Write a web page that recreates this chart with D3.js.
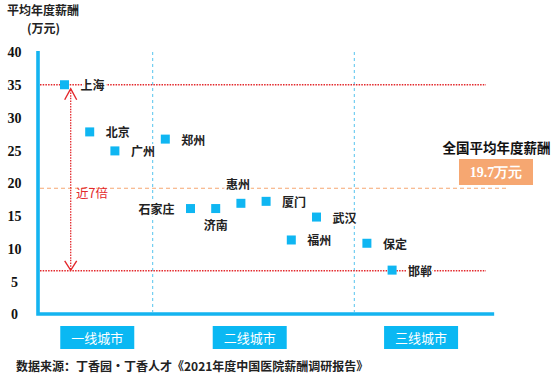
<!DOCTYPE html>
<html><head><meta charset="utf-8">
<script src="https://cdn.jsdelivr.net/npm/d3@7/dist/d3.min.js"></script>
<style>
body{margin:0;background:#fff;}
svg{display:block;}
</style></head>
<body><svg id="c" width="558" height="376"></svg>
<script>
// ---- data ----
const cities   = ["上海","北京","广州","郑州","石家庄","济南","惠州","厦门","福州","武汉","保定","邯郸"];
const salaries = [35, 27.8, 24.9, 26.7, 16.1, 16.1, 16.9, 17.2, 11.3, 14.8, 10.8, 6.7];
const slots    = [0, 1, 2, 4, 5, 6, 7, 8, 9, 10, 12, 13];
const labelSide= ["right","right","right","right","left","below","above","right","right","right","right","right"];
const tiers    = ["一线城市","二线城市","三线城市"];
const tierCenters = [1.3, 7.35, 14.15];
const tierDividers = [3.5, 11.5];
const yTicks   = [0,5,10,15,20,25,30,35,40];
const maxRef = 35, minRef = 6.6;
const avgLineValue = 19.2;
const avgLabel = "19.7万元";
const gapLabel = "近7倍";

const svg = d3.select("#c");
const cyan = "#14b4f0", red = "#e3282c", orange = "#f6a771";
const cjk = "'Noto Sans CJK SC','Noto Sans',sans-serif";
const serif = "'Liberation Serif','DejaVu Serif',serif";

const y = d3.scaleLinear().domain([0,40]).range([314,52]);
const x = d3.scaleLinear().domain([0,13]).range([64.5,392.1]);
const xLeft = 38, xRightAxis = x(17.05);

// title
svg.append("text").attr("x",7).attr("y",9.5).attr("dominant-baseline","central").text("平均年度薪酬")
  .attr("font-family",cjk).attr("font-weight","bold").attr("font-size",12).attr("fill","#222");
svg.append("text").attr("x",43.5).attr("y",27.5).attr("dominant-baseline","central").attr("text-anchor","middle").text("(万元)")
  .attr("font-family",cjk).attr("font-weight","bold").attr("font-size",12).attr("fill","#222");

// y axis labels
const ya = svg.append("g").attr("transform","translate(14.5,0)")
  .call(d3.axisLeft(y).tickValues(yTicks).tickSize(0).tickPadding(0));
ya.select(".domain").remove();
ya.selectAll("text").attr("text-anchor","middle").attr("dy","0.35em")
  .attr("font-family",serif).attr("font-weight","bold").attr("font-size",14).attr("fill","#111");

// tier dividers
svg.selectAll(".div").data(tierDividers).enter().append("line")
  .attr("x1",d=>x(d)).attr("x2",d=>x(d)).attr("y1",y(40)).attr("y2",y(0)-2)
  .attr("stroke","#56c4ee").attr("stroke-width",1).attr("stroke-dasharray","3,3");

// average line
svg.append("line").attr("x1",xLeft+2).attr("x2",507).attr("y1",y(avgLineValue)).attr("y2",y(avgLineValue))
  .attr("stroke",orange).attr("stroke-width",1.2).attr("stroke-dasharray","4,3");

// red reference lines
[maxRef,minRef].forEach(v=>{
  svg.append("line").attr("x1",xLeft+2).attr("x2",486).attr("y1",y(v)).attr("y2",y(v))
    .attr("stroke",red).attr("stroke-width",1.3).attr("stroke-dasharray","1.5,1.2");
});

// axes lines
svg.append("path").attr("d",`M${xLeft},${y(40)-1} L${xLeft},${y(0)} L${xRightAxis},${y(0)}`)
  .attr("fill","none").attr("stroke",cyan).attr("stroke-width",3.6);

// double arrow
const ax = 70.7;
svg.append("line").attr("x1",ax).attr("x2",ax).attr("y1",y(maxRef)+5).attr("y2",y(minRef)-1)
  .attr("stroke",red).attr("stroke-width",1.3).attr("stroke-dasharray","1.5,1.2");
svg.append("path").attr("d",`M${ax-6},${y(maxRef)+15} L${ax},${y(maxRef)+4} L${ax+6},${y(maxRef)+15}`)
  .attr("fill","none").attr("stroke",red).attr("stroke-width",1.4);
svg.append("path").attr("d",`M${ax-6},${y(minRef)-10} L${ax},${y(minRef)-0.5} L${ax+6},${y(minRef)-10}`)
  .attr("fill","none").attr("stroke",red).attr("stroke-width",1.4);
svg.append("text").attr("x",76).attr("y",192).attr("dominant-baseline","central").text(gapLabel)
  .attr("font-family",cjk).attr("font-size",12.5).attr("fill",red);

// city labels
const lab = svg.selectAll(".lab").data(cities).enter().append("text")
  .attr("font-family",cjk).attr("font-weight","bold").attr("font-size",12).attr("fill","#222")
  .attr("dominant-baseline","central")
  .attr("stroke","#fff").attr("stroke-width",4).attr("paint-order","stroke")
  .text(d=>d)
  .attr("x",(d,i)=>{const s=labelSide[i], px=x(slots[i]);
     return s==="right"?px+16:s==="left"?px-16:s==="above"?px-3:px;})
  .attr("y",(d,i)=>{const s=labelSide[i], py=y(salaries[i]);
     return s==="below"?py+16:s==="above"?py-20:py;})
  .attr("text-anchor",(d,i)=>labelSide[i]==="right"?"start":labelSide[i]==="left"?"end":"middle");

// points
svg.selectAll(".pt").data(cities).enter().append("rect")
  .attr("x",(d,i)=>x(slots[i])-4.5).attr("y",(d,i)=>y(salaries[i])-4.5)
  .attr("width",9).attr("height",9).attr("fill","#0fb6f2");

// tier boxes
const tg = svg.selectAll(".tier").data(tiers).enter().append("g")
  .attr("transform",(d,i)=>`translate(${x(tierCenters[i])},337.5)`);
tg.append("rect").attr("x",-37).attr("y",-11.5).attr("width",74).attr("height",23).attr("fill","#0ab8f3");
tg.append("text").attr("text-anchor","middle").attr("dominant-baseline","central").text(d=>d)
  .attr("font-family",cjk).attr("font-size",13).attr("fill","#fff");

// national average annotation
svg.append("text").attr("x",496.5).attr("y",147).attr("text-anchor","middle").attr("dominant-baseline","central")
  .text("全国平均年度薪酬").attr("font-family",cjk).attr("font-weight","bold").attr("font-size",13.5).attr("fill","#111");
svg.append("rect").attr("x",459).attr("y",159).attr("width",74).attr("height",26).attr("fill",orange);
svg.append("text").attr("x",496).attr("y",172).attr("text-anchor","middle").attr("dominant-baseline","central")
  .text(avgLabel).attr("font-family",serif).attr("font-weight","bold").attr("font-size",14).attr("fill","#fff");

// source
svg.append("text").attr("x",16).attr("y",365).attr("dominant-baseline","central")
  .text("数据来源：丁香园·丁香人才《2021年度中国医院薪酬调研报告》")
  .attr("font-family",cjk).attr("font-weight","bold").attr("font-size",12).attr("fill","#222");
</script></body></html>
